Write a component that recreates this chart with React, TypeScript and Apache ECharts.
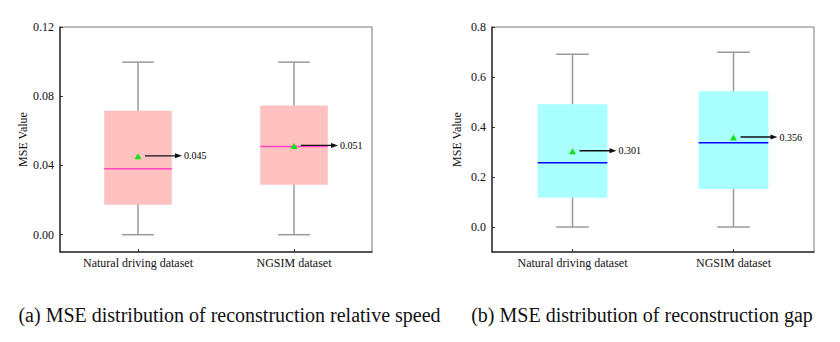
import React, { useEffect, useRef } from "react";
import * as echarts from "echarts";

const categories = ["Natural driving dataset", "NGSIM dataset"];
// [min, q1, median, q3, max, mean]
const speedStats = [
  [0.0, 0.0173, 0.0381, 0.0716, 0.0997, 0.045],
  [0.0, 0.0289, 0.051, 0.0747, 0.0997, 0.051],
];
const gapStats = [
  [0.0, 0.117, 0.257, 0.491, 0.691, 0.301],
  [0.0, 0.152, 0.337, 0.543, 0.699, 0.356],
];
const speedTicks = [0, 0.04, 0.08, 0.12];
const gapTicks = [0, 0.2, 0.4, 0.6, 0.8];
const captions = [
  "(a) MSE distribution of reconstruction relative speed",
  "(b) MSE distribution of reconstruction gap",
];

const SERIF = "'Liberation Serif', 'Times New Roman', serif";

function makeRender(boxFill: string, medianColor: string) {
  return (params: any, api: any) => {
    const cat = api.value(0);
    const vmin = api.value(1);
    const q1 = api.value(2);
    const med = api.value(3);
    const q3 = api.value(4);
    const vmax = api.value(5);
    const mean = api.value(6);
    const band = api.size([1, 0])[0];
    const bw = band * 0.433;
    const cw = band * 0.203;
    const pMin = api.coord([cat, vmin]);
    const pQ1 = api.coord([cat, q1]);
    const pMed = api.coord([cat, med]);
    const pQ3 = api.coord([cat, q3]);
    const pMax = api.coord([cat, vmax]);
    const pMean = api.coord([cat, mean]);
    const cx = pMin[0];
    const whisker = { stroke: "#9a9a9a", lineWidth: 1.5 };
    const ay = pMean[1] - 1;
    const ax0 = cx + 7;
    const ax1 = cx + 44;
    return {
      type: "group",
      children: [
        { type: "line", shape: { x1: cx, y1: pMin[1], x2: cx, y2: pMax[1] }, style: whisker },
        { type: "line", shape: { x1: cx - cw / 2, y1: pMin[1], x2: cx + cw / 2, y2: pMin[1] }, style: whisker },
        { type: "line", shape: { x1: cx - cw / 2, y1: pMax[1], x2: cx + cw / 2, y2: pMax[1] }, style: whisker },
        {
          type: "rect",
          shape: { x: cx - bw / 2, y: pQ3[1], width: bw, height: pQ1[1] - pQ3[1] },
          style: { fill: boxFill },
        },
        {
          type: "line",
          shape: { x1: cx - bw / 2, y1: pMed[1], x2: cx + bw / 2, y2: pMed[1] },
          style: { stroke: medianColor, lineWidth: 1.5 },
        },
        {
          type: "polygon",
          shape: { points: [[cx, pMean[1] - 3.5], [cx - 3.5, pMean[1] + 2.5], [cx + 3.5, pMean[1] + 2.5]] },
          style: { fill: "#16e016" },
        },
        {
          type: "line",
          shape: { x1: ax0, y1: ay, x2: ax1 - 4, y2: ay },
          style: { stroke: "#111", lineWidth: 1.3 },
        },
        {
          type: "polygon",
          shape: { points: [[ax1, ay], [ax1 - 7, ay - 2.5], [ax1 - 7, ay + 2.5]] },
          style: { fill: "#111" },
        },
        {
          type: "text",
          style: {
            text: mean.toFixed(3),
            x: ax1 + 2,
            y: ay,
            fill: "#000",
            fontSize: 10,
            fontFamily: SERIF,
            align: "left",
            verticalAlign: "middle",
          },
        },
      ],
    };
  };
}

export default function App() {
  const ref = useRef<HTMLDivElement>(null);
  useEffect(() => {
    if (!ref.current) return;
    const chart = echarts.init(ref.current, null, { renderer: "svg" });
    const axisText = { color: "#111", fontFamily: SERIF, fontSize: 12 };
    const mkX = (gi: number) => ({
      type: "category",
      gridIndex: gi,
      data: categories,
      boundaryGap: true,
      axisLine: { onZero: false, lineStyle: { color: "#333", width: 1.5 } },
      axisTick: { show: true, inside: true, alignWithLabel: true, length: 3, lineStyle: { color: "#333" } },
      axisLabel: { ...axisText, margin: 5 },
      splitLine: { show: false },
    });
    const mkY = (gi: number, min: number, max: number, ticks: number[], digits: number) => ({
      type: "value",
      gridIndex: gi,
      min,
      max,
      name: "MSE Value",
      nameLocation: "middle",
      nameGap: 29,
      nameRotate: 90,
      nameTextStyle: { ...axisText },
      axisLine: { show: true, lineStyle: { color: "#333", width: 1.5 } },
      axisTick: { show: true, inside: true, length: 3, customValues: ticks, lineStyle: { color: "#333" } },
      axisLabel: {
        ...axisText,
        margin: 6,
        customValues: ticks,
        formatter: (v: number) => v.toFixed(digits),
      },
      splitLine: { show: false },
    });
    const toData = (stats: number[][]) => stats.map((s, i) => [i, ...s]);
    chart.setOption({
      animation: false,
      backgroundColor: "#fff",
      grid: [
        { left: 60, top: 27, width: 312, height: 225, show: true, borderColor: "#777", borderWidth: 1 },
        { left: 492, top: 27, width: 322, height: 225, show: true, borderColor: "#777", borderWidth: 1 },
      ],
      xAxis: [mkX(0), mkX(1)],
      yAxis: [mkY(0, -0.01, 0.12, speedTicks, 2), mkY(1, -0.1, 0.8, gapTicks, 1)],
      series: [
        {
          type: "custom",
          xAxisIndex: 0,
          yAxisIndex: 0,
          renderItem: makeRender("#ffc0c0", "#ff44c4"),
          encode: { x: 0, y: [1, 2, 3, 4, 5, 6] },
          data: toData(speedStats),
        },
        {
          type: "custom",
          xAxisIndex: 1,
          yAxisIndex: 1,
          renderItem: makeRender("#aaffff", "#0000ff"),
          encode: { x: 0, y: [1, 2, 3, 4, 5, 6] },
          data: toData(gapStats),
        },
      ],
      graphic: [
        {
          type: "text",
          x: 229.5,
          y: 315,
          style: {
            text: captions[0],
            fill: "#111",
            fontSize: 20,
            fontFamily: SERIF,
            align: "center",
            verticalAlign: "middle",
          },
        },
        {
          type: "text",
          x: 642,
          y: 315,
          style: {
            text: captions[1],
            fill: "#111",
            fontSize: 20,
            fontFamily: SERIF,
            align: "center",
            verticalAlign: "middle",
          },
        },
      ],
    });
    return () => chart.dispose();
  }, []);
  return <div ref={ref} style={{ width: 840, height: 342, position: "absolute", left: 0, top: 0 }} />;
}
